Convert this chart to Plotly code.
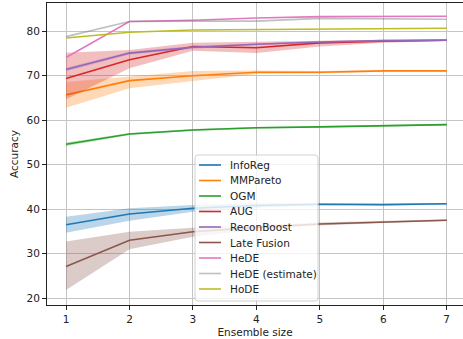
import plotly.graph_objects as go

# Ensemble sizes evaluated
ensemble_size = [1, 2, 3, 4, 5, 6, 7]

# Mean accuracy per method
inforeg = [36.5, 38.9, 40.2, 40.8, 41.1, 41.0, 41.2]
mmpareto = [65.7, 68.9, 70.0, 70.8, 70.8, 71.1, 71.1]
ogm = [54.6, 56.9, 57.8, 58.3, 58.5, 58.8, 59.0]
aug = [69.4, 73.6, 76.6, 76.3, 77.4, 77.8, 78.0]
reconboost = [71.4, 75.1, 76.4, 77.1, 77.6, 77.9, 78.0]
late_fusion = [27.1, 33.0, 34.9, 35.9, 36.65, 37.1, 37.5]
hede = [74.1, 82.2, 82.5, 83.0, 83.3, 83.4, 83.4]
hede_est = [78.8, 82.2, 82.3, 82.3, 82.9, 82.8, 82.7]
hode = [78.5, 79.8, 80.3, 80.4, 80.5, 80.6, 80.7]

# Spread (lower / upper) for methods with multiple runs
inforeg_lo = [34.7, 37.4, 39.4, 40.3, 40.9, 40.8, 41.0]
inforeg_hi = [38.3, 40.2, 40.9, 41.3, 41.3, 41.2, 41.4]
mmpareto_lo = [62.8, 67.2, 68.8, 70.4, 70.5, 70.9, 70.9]
mmpareto_hi = [68.6, 69.9, 71.1, 71.2, 71.1, 71.3, 71.3]
ogm_lo = [54.2, 56.7, 57.6, 58.1, 58.3, 58.6, 58.8]
ogm_hi = [55.0, 57.1, 58.0, 58.5, 58.7, 59.0, 59.2]
aug_lo = [64.7, 71.7, 75.6, 75.1, 76.6, 77.4, 77.8]
aug_hi = [75.2, 75.8, 77.4, 77.7, 77.9, 78.1, 78.2]
reconboost_lo = [71.0, 74.8, 76.1, 76.9, 77.4, 77.7, 77.8]
reconboost_hi = [71.8, 75.4, 76.7, 77.3, 77.8, 78.1, 78.2]
late_fusion_lo = [21.8, 30.95, 33.8, 35.4, 36.3, 36.9, 37.3]
late_fusion_hi = [32.7, 34.9, 35.8, 36.3, 37.0, 37.3, 37.7]

series = [
    ("InfoReg", inforeg, inforeg_lo, inforeg_hi, (31, 119, 180), 1.0),
    ("MMPareto", mmpareto, mmpareto_lo, mmpareto_hi, (255, 127, 14), 1.0),
    ("OGM", ogm, ogm_lo, ogm_hi, (44, 160, 44), 1.0),
    ("AUG", aug, aug_lo, aug_hi, (214, 39, 40), 1.0),
    ("ReconBoost", reconboost, reconboost_lo, reconboost_hi, (148, 103, 189), 1.0),
    ("Late Fusion", late_fusion, late_fusion_lo, late_fusion_hi, (140, 86, 75), 1.0),
    ("HeDE", hede, None, None, (227, 119, 194), 1.0),
    ("HeDE (estimate)", hede_est, None, None, (127, 127, 127), 0.5),
    ("HoDE", hode, None, None, (188, 189, 34), 1.0),
]

W, H = 463, 339
M_L, M_R, M_T, M_B = 47, 0, 3, 34
PW, PH = W - M_L - M_R, H - M_T - M_B
FONT = "DejaVu Sans"
TEXT = "#222222"


def px_x(px):
    """Pixel column -> paper x."""
    return (px - M_L) / PW


def px_y(py):
    """Pixel row -> paper y."""
    return (H - M_B - py) / PH


fig = go.Figure()
for name, mean, lo, hi, rgb, alpha in series:
    r, g, b = rgb
    if lo is not None:
        fig.add_trace(go.Scatter(
            x=ensemble_size + ensemble_size[::-1],
            y=hi + lo[::-1],
            fill="toself",
            fillcolor=f"rgba({r},{g},{b},0.3)",
            line=dict(width=0),
            mode="lines",
            hoverinfo="skip",
            showlegend=False,
        ))
    fig.add_trace(go.Scatter(
        x=ensemble_size, y=mean, name=name, mode="lines",
        line=dict(color=f"rgba({r},{g},{b},{alpha})", width=1.6),
        showlegend=False,
    ))

# Compact legend box (matplotlib-style spacing)
box_l, box_r, box_t, box_b, rad = 195, 318, 155, 301, 3
path = (
    f"M {px_x(box_l + rad)},{px_y(box_t)} "
    f"L {px_x(box_r - rad)},{px_y(box_t)} "
    f"Q {px_x(box_r)},{px_y(box_t)} {px_x(box_r)},{px_y(box_t + rad)} "
    f"L {px_x(box_r)},{px_y(box_b - rad)} "
    f"Q {px_x(box_r)},{px_y(box_b)} {px_x(box_r - rad)},{px_y(box_b)} "
    f"L {px_x(box_l + rad)},{px_y(box_b)} "
    f"Q {px_x(box_l)},{px_y(box_b)} {px_x(box_l)},{px_y(box_b - rad)} "
    f"L {px_x(box_l)},{px_y(box_t + rad)} "
    f"Q {px_x(box_l)},{px_y(box_t)} {px_x(box_l + rad)},{px_y(box_t)} Z"
)
fig.add_shape(type="path", path=path, xref="paper", yref="paper",
              fillcolor="rgba(255,255,255,0.8)",
              line=dict(color="rgba(204,204,204,0.9)", width=1), layer="above")

row0, row_step = 165, 15.5
for i, (name, _, _, _, (r, g, b), alpha) in enumerate(series):
    yy = px_y(row0 + i * row_step)
    fig.add_shape(type="line", xref="paper", yref="paper",
                  x0=px_x(199), x1=px_x(221), y0=yy, y1=yy,
                  line=dict(color=f"rgba({r},{g},{b},{alpha})", width=1.6),
                  layer="above")
    fig.add_annotation(x=px_x(228), y=yy, xref="paper", yref="paper",
                       text=name, showarrow=False, xanchor="left", yanchor="middle",
                       font=dict(family=FONT, size=10.5, color=TEXT))

axis_common = dict(
    showgrid=True, gridcolor="#c4c4c4", gridwidth=1.1,
    zeroline=False, showline=True, linecolor=TEXT, linewidth=1,
    ticks="outside", ticklen=4, tickcolor=TEXT, tickwidth=1,
    tickfont=dict(family=FONT, size=10.5, color=TEXT),
)

fig.update_layout(
    width=W, height=H,
    margin=dict(l=M_L, r=M_R, t=M_T, b=M_B),
    paper_bgcolor="white", plot_bgcolor="white",
    font=dict(family=FONT, size=10.5, color=TEXT),
    xaxis=dict(
        range=[0.70, 7.257], tickmode="array", tickvals=ensemble_size,
        mirror=True,
        title=dict(text="Ensemble size", standoff=5,
                   font=dict(family=FONT, size=10.5)),
        **axis_common,
    ),
    yaxis=dict(
        range=[18.43, 86.37], tickmode="array", tickvals=[20, 30, 40, 50, 60, 70, 80],
        title=dict(text="Accuracy", standoff=5,
                   font=dict(family=FONT, size=10.5)),
        **axis_common,
    ),
    showlegend=False,
)

fig.write_html("out.html")
